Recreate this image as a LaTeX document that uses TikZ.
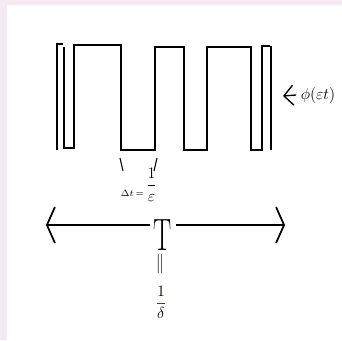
\documentclass[tikz,border=0pt]{standalone}
\usepackage{amsmath}
\usepackage{graphicx}
\usetikzlibrary{arrows.meta}
\definecolor{framepink}{RGB}{244,234,241}
\definecolor{barblue}{RGB}{60,50,170}

\begin{document}
\begin{tikzpicture}[
    x=0.75pt, y=-0.75pt,
    wave/.style={line width=1.3pt, line join=miter},
    bigarr/.style={-{Straight Barb[length=6pt,width=27pt]}, line width=1.3pt},
    ptr/.style={-{Straight Barb[length=7pt,width=15pt]}, line width=1pt},
    tick/.style={line width=0.8pt}
]
    % Frame
    \useasboundingbox (0,0) rectangle (342,340);
    \fill[framepink] (0,0) rectangle (342,340);
    \fill[white] (7,5) rectangle (342,340);

    % Square wave
    \draw[wave] (57,150) -- (57,44) -- (63,44);
    \draw[wave] (64,47) -- (64,148) -- (74,148) -- (74,45) -- (121,45) -- (121,150)
        -- (155,150) -- (155,47) -- (184,47) -- (184,150) -- (207,150) -- (207,47)
        -- (251,47) -- (251,150) -- (262,150) -- (262,46) -- (270,46);
    \draw[wave] (271,46) -- (271,150);

    % Label of the wave
    \node (phi) at (318,95) {\large $\phi(\varepsilon t)$};
    \coordinate (waveR) at (283,96);
    \draw[ptr] (phi.west) -- (waveR);

    % Width of one low pulse
    \draw[tick] (120,158) -- (123,171);
    \draw[tick] (157,158) -- (154,171);
    \node (dt) at (139,185) {\raisebox{-5pt}{$\scriptstyle\Delta t\,=$}\,\large$\dfrac{1}{\rule{0pt}{10pt}\varepsilon}$};

    % Period
    \node[inner sep=3pt] (T) at (163,235) {\scalebox{0.6}[1]{\fontsize{34}{34}\selectfont T}};
    \coordinate (left) at (46,225);
    \coordinate (right) at (285,225);
    \draw[bigarr] (T.west |- left) -- (left);
    \draw[bigarr] (T.east |- right) -- (right);
    \node (eq) at (161,264) {\rotatebox{90}{\scalebox{2.2}[1.2]{$=$}}};
    \node (period) at (161,302) {\large$\color{barblue}\dfrac{\color{black}1}{\color{black}\delta}$};
\end{tikzpicture}
\end{document}
